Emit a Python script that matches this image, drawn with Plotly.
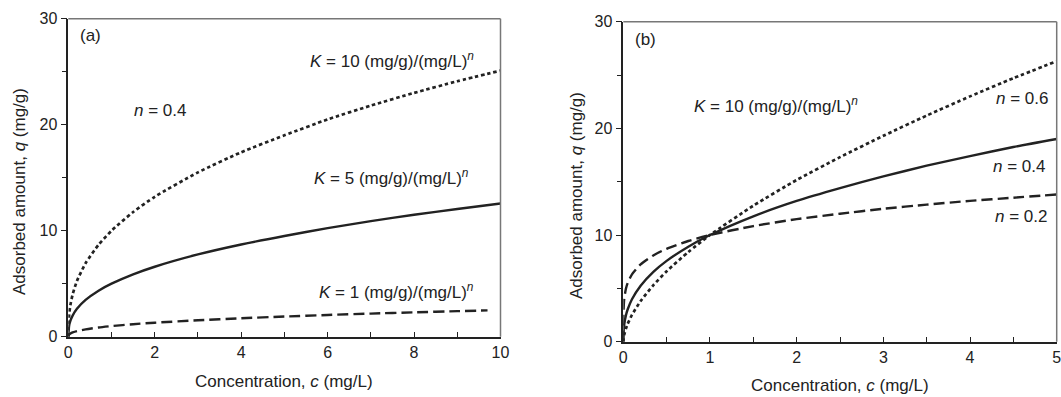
import plotly.graph_objects as go

# ---- Panel (a): n = 0.4, three values of K ----
conc_a = [0, 0.02, 0.05, 0.1, 0.2, 0.4, 0.7, 1, 1.5, 2, 3, 4, 5, 6, 7, 8, 9, 10]
q_k10 = [0, 2.09, 3.02, 3.98, 5.25, 6.93, 8.67, 10.0, 11.76, 13.2, 15.5, 17.4, 19.0, 20.5, 21.8, 23.0, 24.1, 25.1]
q_k5 = [0, 1.05, 1.51, 1.99, 2.63, 3.47, 4.34, 5.0, 5.88, 6.6, 7.76, 8.7, 9.5, 10.24, 10.9, 11.5, 12.05, 12.56]
conc_a_k1 = [0, 0.02, 0.05, 0.1, 0.2, 0.4, 0.7, 1, 1.5, 2, 3, 4, 5, 6, 7, 8, 9, 9.7]
q_k1 = [0, 0.21, 0.30, 0.40, 0.53, 0.69, 0.87, 1.0, 1.18, 1.32, 1.55, 1.74, 1.90, 2.05, 2.18, 2.30, 2.41, 2.48]

# ---- Panel (b): K = 10, three values of n ----
conc_b = [0, 0.001, 0.01, 0.03, 0.05, 0.1, 0.2, 0.35, 0.5, 0.75, 1, 1.5, 2, 2.5, 3, 3.5, 4, 4.5, 5]
q_n06 = [0, 0.16, 0.63, 1.22, 1.66, 2.51, 3.81, 5.33, 6.60, 8.41, 10.0, 12.75, 15.16, 17.3, 19.3, 21.2, 23.0, 24.7, 26.3]
q_n04 = [0, 0.63, 1.58, 2.46, 3.02, 3.98, 5.25, 6.57, 7.58, 8.91, 10.0, 11.76, 13.2, 14.4, 15.5, 16.5, 17.4, 18.25, 19.0]
q_n02 = [0, 2.51, 3.98, 4.96, 5.49, 6.31, 7.25, 8.11, 8.71, 9.44, 10.0, 10.84, 11.49, 12.0, 12.46, 12.85, 13.2, 13.5, 13.8]

INK = "#222222"
FONT = "Liberation Sans, Arial, sans-serif"
DOTTED = "3.5px,2.8px"
DASHED = "11px,5px"

fig = go.Figure()


def curve(x, y, dash, xa, ya, width=2.4):
    fig.add_trace(go.Scatter(
        x=x, y=y, mode="lines", xaxis=xa, yaxis=ya, showlegend=False,
        line=dict(color=INK, width=width, dash=dash, shape="spline", smoothing=0.6),
        hoverinfo="skip"))


curve(conc_a, q_k10, DOTTED, "x", "y", 2.7)
curve(conc_a, q_k5, "solid", "x", "y")
curve(conc_a_k1, q_k1, DASHED, "x", "y")

curve(conc_b, q_n06, DOTTED, "x2", "y2", 2.7)
curve(conc_b, q_n04, "solid", "x2", "y2")
curve(conc_b, q_n02, DASHED, "x2", "y2")

dom_ax = [68.3 / 1061, 500.5 / 1061]
dom_ay = [1 - 336.7 / 397, 1 - 18.7 / 397]
dom_bx = [623.3 / 1061, 1056.7 / 1061]
dom_by = [1 - 341.7 / 397, 1 - 21.7 / 397]

tickfont = dict(family=FONT, size=16, color=INK)


def xaxis(dom, rng, dtick, minor):
    return dict(domain=dom, range=rng, showgrid=False, zeroline=False,
                showline=True, linecolor=INK, linewidth=1.5,
                ticks="inside", ticklen=5, tickwidth=1.2, tickcolor=INK,
                tick0=0, dtick=dtick, tickfont=tickfont, ticklabeloverflow="allow",
                minor=dict(ticks="inside", ticklen=5, tickwidth=1.2, tickcolor=INK, dtick=minor, tick0=0),
                automargin=False, fixedrange=True)


def yaxis(dom, anchor):
    return dict(domain=dom, range=[0, 30], anchor=anchor, showgrid=False, zeroline=False,
                showline=True, linecolor=INK, linewidth=1.5,
                ticks="outside", ticklen=6, tickwidth=1.2, tickcolor=INK,
                tick0=0, dtick=10, tickfont=tickfont, ticklabeloverflow="allow",
                minor=dict(ticks="outside", ticklen=5, tickwidth=1.2, tickcolor=INK, dtick=5, tick0=0),
                automargin=False, fixedrange=True)


fig.update_layout(
    width=1061, height=397,
    margin=dict(l=0, r=0, t=0, b=0),
    paper_bgcolor="white", plot_bgcolor="white",
    font=dict(family=FONT, color=INK, size=17),
    xaxis=dict(xaxis(dom_ax, [0, 10], 2, 1), anchor="y"),
    yaxis=yaxis(dom_ay, "x"),
    xaxis2=dict(xaxis(dom_bx, [0, 5], 1, 0.5), anchor="y2"),
    yaxis2=yaxis(dom_by, "x2"),
)

# gray top and right frame edges
for xr, yr in (("x", "y"), ("x2", "y2")):
    fig.add_shape(type="line", xref=f"{xr} domain", yref=f"{yr} domain",
                  x0=0, x1=1, y0=1, y1=1, line=dict(color="#777777", width=1.5))
    fig.add_shape(type="line", xref=f"{xr} domain", yref=f"{yr} domain",
                  x0=1, x1=1, y0=0, y1=1, line=dict(color="#777777", width=1.5))

lab = dict(size=17, family=FONT, color=INK)


def note(text, x, y, xr, yr, xanchor="center"):
    fig.add_annotation(text=text, x=x, y=y, xref=xr, yref=yr, showarrow=False,
                       font=lab, xanchor=xanchor, yanchor="middle")


# panel (a) labels
note("(a)", 0.22, 28.4, "x", "y", "left")
note("<i>n</i> = 0.4", 2.12, 21.3, "x", "y")
note("<i>K</i> = 10 (mg/g)/(mg/L)<sup><i>n</i></sup>", 7.48, 26.1, "x", "y")
note("<i>K</i> = 5 (mg/g)/(mg/L)<sup><i>n</i></sup>", 7.48, 15.1, "x", "y")
note("<i>K</i> = 1 (mg/g)/(mg/L)<sup><i>n</i></sup>", 7.6, 4.3, "x", "y")

# panel (b) labels
note("(b)", 0.11, 28.3, "x2", "y2", "left")
note("<i>K</i> = 10 (mg/g)/(mg/L)<sup><i>n</i></sup>", 1.76, 22.2, "x2", "y2")
note("<i>n</i> = 0.6", 4.6, 22.8, "x2", "y2")
note("<i>n</i> = 0.4", 4.57, 16.4, "x2", "y2")
note("<i>n</i> = 0.2", 4.59, 11.7, "x2", "y2")

# axis titles
xt = "Concentration, <i>c</i> (mg/L)"
yt = "Adsorbed amount, <i>q</i> (mg/g)"
fig.add_annotation(text=xt, x=284 / 1061, y=1 - 381 / 397, xref="paper", yref="paper",
                   showarrow=False, font=lab, xanchor="center", yanchor="middle")
fig.add_annotation(text=xt, x=840 / 1061, y=1 - 385 / 397, xref="paper", yref="paper",
                   showarrow=False, font=lab, xanchor="center", yanchor="middle")
fig.add_annotation(text=yt, x=19 / 1061, y=1 - 192 / 397, xref="paper", yref="paper",
                   showarrow=False, font=lab, textangle=-90, xanchor="center", yanchor="middle")
fig.add_annotation(text=yt, x=576 / 1061, y=1 - 196 / 397, xref="paper", yref="paper",
                   showarrow=False, font=lab, textangle=-90, xanchor="center", yanchor="middle")

fig.write_html("out.html")
